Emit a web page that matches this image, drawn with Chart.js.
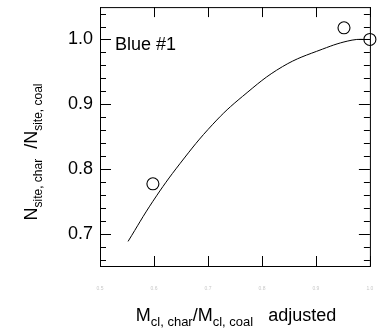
<!DOCTYPE html>
<html>
<head>
<meta charset="utf-8">
<script src="https://cdn.jsdelivr.net/npm/chart.js@4"></script>
<style>
  html, body { margin: 0; padding: 0; background: #fff; }
  #wrap { width: 377px; height: 328px; position: relative; }
</style>
</head>
<body>
<div id="wrap"><canvas id="chart"></canvas></div>
<script>
// fitted curve
const curveX = [0.552, 0.598, 0.648, 0.709, 0.764, 0.838, 0.912, 0.967, 1.0];
const curveY = [0.688, 0.750, 0.808, 0.869, 0.912, 0.958, 0.985, 0.999, 1.0];
// measured points
const dataX = [0.598, 0.952, 1.0];
const dataY = [0.777, 1.018, 1.0];
// axes
const xTicks = [0.5, 0.6, 0.7, 0.8, 0.9, 1.0];
const yTicks = [0.7, 0.8, 0.9, 1.0];
const yMinor = [0.66, 0.68, 0.72, 0.74, 0.76, 0.78, 0.82, 0.84, 0.86, 0.88, 0.92, 0.94, 0.96, 0.98, 1.02, 1.04];

const FONT = 'Arial, "Liberation Sans", sans-serif';

// text with subscripts: parts = [[text, isSub], ...]
function drawParts(ctx, parts, x, y, size, subSize) {
  let cx = x;
  parts.forEach(([t, sub]) => {
    ctx.font = `${sub ? subSize : size}px ${FONT}`;
    ctx.fillText(t, cx, sub ? y + size * 0.28 : y);
    cx += ctx.measureText(t).width;
  });
}
function partsWidth(ctx, parts, size, subSize) {
  return parts.reduce((w, [t, sub]) => {
    ctx.font = `${sub ? subSize : size}px ${FONT}`;
    return w + ctx.measureText(t).width;
  }, 0);
}

const noPad = s => { s.paddingTop = s.paddingBottom = s.paddingLeft = s.paddingRight = 0; };

const frame = {
  id: 'frame',
  afterDraw(chart) {
    const { ctx, chartArea: a, scales: { x, y } } = chart;
    ctx.save();
    ctx.strokeStyle = '#000';
    ctx.lineWidth = 1;
    ctx.strokeRect(a.left + 0.5, a.top + 0.5, a.right - a.left, a.bottom - a.top);
    ctx.beginPath();
    xTicks.forEach(v => {
      const px = Math.round(x.getPixelForValue(v)) + 0.5;
      ctx.moveTo(px, a.bottom); ctx.lineTo(px, a.bottom - 10);
      ctx.moveTo(px, a.top); ctx.lineTo(px, a.top + 10);
    });
    yTicks.forEach(v => {
      const py = Math.round(y.getPixelForValue(v)) + 0.5;
      ctx.moveTo(a.left, py); ctx.lineTo(a.left + 11, py);
      ctx.moveTo(a.right, py); ctx.lineTo(a.right - 11, py);
    });
    yMinor.forEach(v => {
      const py = Math.round(y.getPixelForValue(v)) + 0.5;
      ctx.moveTo(a.left, py); ctx.lineTo(a.left + 6, py);
      ctx.moveTo(a.right, py); ctx.lineTo(a.right - 6, py);
    });
    ctx.stroke();

    ctx.fillStyle = '#000';
    ctx.textBaseline = 'alphabetic';
    ctx.font = `18px ${FONT}`;
    ctx.fillText('Blue #1', a.left + 15, 50);

    // x title
    const xp = [['M', false], ['cl, char', true], ['/M', false], ['cl, coal', true], ['   adjusted', false]];
    const xw = partsWidth(ctx, xp, 18, 13);
    drawParts(ctx, xp, 236 - xw / 2, 321, 18, 13);

    // y title
    const yp = [['N', false], ['site, char', true], ['  /N', false], ['site, coal', true]];
    ctx.translate(37, 152);
    ctx.rotate(-Math.PI / 2);
    const yw = partsWidth(ctx, yp, 18, 12);
    drawParts(ctx, yp, -yw / 2, 0, 18, 12);
    ctx.restore();
  }
};

new Chart(document.getElementById('chart'), {
  type: 'scatter',
  data: {
    datasets: [
      {
        type: 'line',
        data: curveX.map((v, i) => ({ x: v, y: curveY[i] })),
        borderColor: '#000',
        borderWidth: 1,
        pointRadius: 0,
        tension: 0.4,
        fill: false
      },
      {
        data: dataX.map((v, i) => ({ x: v, y: dataY[i] })),
        pointStyle: 'circle',
        pointRadius: 6,
        pointBorderWidth: 1.1,
        pointBorderColor: '#000',
        pointBackgroundColor: 'rgba(0,0,0,0)'
      }
    ]
  },
  options: {
    responsive: true,
    maintainAspectRatio: false,
    animation: false,
    clip: false,
    layout: { padding: { top: 6, right: 5, left: 0, bottom: 0 } },
    plugins: { legend: { display: false }, tooltip: { enabled: false } },
    scales: {
      x: {
        type: 'linear',
        min: 0.5, max: 1.0,
        afterBuildTicks: s => { s.ticks = xTicks.map(v => ({ value: v })); },
        afterFit: s => { s.height = 62; noPad(s); },
        grid: { display: false, drawTicks: false },
        border: { display: false },
        ticks: {
          padding: 20,
          color: '#c8c8c8',
          font: { size: 5, family: FONT },
          callback: v => v.toFixed(1)
        }
      },
      y: {
        min: 0.65, max: 1.05,
        afterBuildTicks: s => { s.ticks = yTicks.map(v => ({ value: v })); },
        afterFit: s => { s.width = 100; noPad(s); },
        grid: { display: false, drawTicks: false },
        border: { display: false },
        ticks: {
          padding: 7,
          color: '#000',
          font: { size: 18, family: FONT },
          callback: v => v.toFixed(1)
        }
      }
    }
  },
  plugins: [frame]
});
</script>
</body>
</html>
